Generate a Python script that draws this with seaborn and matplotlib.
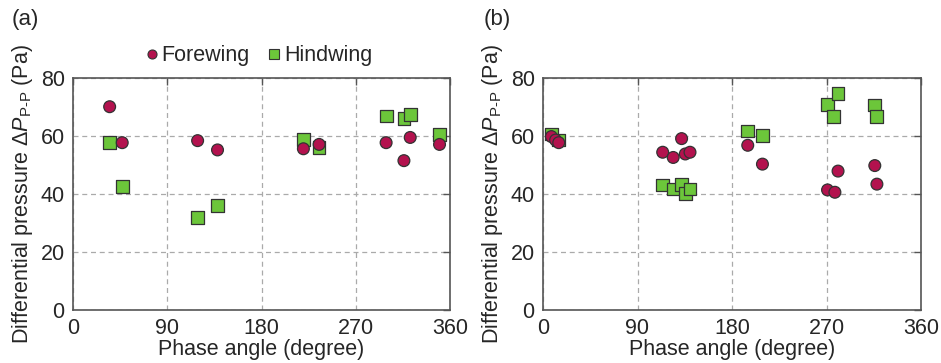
import numpy as np
import pandas as pd
import matplotlib
matplotlib.use("Agg")
import matplotlib.pyplot as plt
from matplotlib.lines import Line2D
import seaborn as sns

# ---- data ----
a_fore_x = [35, 47, 119, 138, 220, 235, 299, 316, 322, 350]
a_fore_y = [70.1, 57.7, 58.4, 55.2, 55.6, 57.1, 57.7, 51.5, 59.5, 57.1]
a_hind_x = [35, 47, 119, 138, 220, 235, 299, 316, 322, 350]
a_hind_y = [57.8, 42.5, 32.0, 35.9, 58.9, 56.1, 66.9, 65.9, 67.5, 60.6]

b_fore_x = [8, 12, 15, 114, 124, 132, 135.5, 140, 195, 209, 271, 278, 281, 316, 318]
b_fore_y = [59.8, 58.6, 57.7, 54.4, 52.6, 59.1, 53.8, 54.4, 56.8, 50.3, 41.4, 40.6, 47.9, 49.8, 43.4]
b_hind_x = [8, 15, 114, 124, 132, 135.5, 140, 195, 209, 271, 277, 281, 316, 318]
b_hind_y = [60.7, 58.6, 43.1, 41.7, 43.3, 40.1, 41.7, 61.7, 60.2, 71.0, 66.7, 74.6, 70.7, 66.7]

x_ticks = [0, 90, 180, 270, 360]
y_ticks = [0, 20, 40, 60, 80]
panel_labels = ["(a)", "(b)"]
series_names = ["Forewing", "Hindwing"]

FORE_COLOR = "#B3124E"
HIND_COLOR = "#6CC63A"

sns.set_theme(style="white")
plt.rcParams["font.family"] = ["Liberation Sans", "DejaVu Sans"]
plt.rcParams["mathtext.fontset"] = "custom"
plt.rcParams["mathtext.rm"] = "Liberation Sans"
plt.rcParams["mathtext.it"] = "Liberation Sans:italic"
plt.rcParams["mathtext.bf"] = "Liberation Sans:bold"


def make_df(hx, hy, fx, fy):
    # hindwing first so forewing circles are drawn on top
    rows = [("Hindwing", x, y) for x, y in zip(hx, hy)] + \
           [("Forewing", x, y) for x, y in zip(fx, fy)]
    return pd.DataFrame(rows, columns=["wing", "phase", "dp"])


dfs = [make_df(a_hind_x, a_hind_y, a_fore_x, a_fore_y),
       make_df(b_hind_x, b_hind_y, b_fore_x, b_fore_y)]

fig = plt.figure(figsize=(9.41, 3.63), dpi=100)
ax_a = fig.add_axes([73 / 941, 53 / 363, 377 / 941, 232 / 363])
ax_b = fig.add_axes([543 / 941, 53 / 363, 378 / 941, 232 / 363])

ylabel = r"Differential pressure $\Delta\mathit{P}_{\mathrm{P\text{-}P}}$ (Pa)"

for ax, df in zip([ax_a, ax_b], dfs):
    sns.scatterplot(
        data=df, x="phase", y="dp", hue="wing", style="wing", size="wing",
        hue_order=series_names, style_order=series_names,
        palette={"Forewing": FORE_COLOR, "Hindwing": HIND_COLOR},
        markers={"Forewing": "o", "Hindwing": "s"},
        sizes={"Forewing": 72, "Hindwing": 85},
        edgecolor="#333333", linewidth=0.9, alpha=1, legend=False, ax=ax, zorder=3,
    )
    ax.set_xlim(0, 360)
    ax.set_ylim(0, 80)
    ax.set_xticks(x_ticks)
    ax.set_yticks(y_ticks)
    ax.grid(True, color="#aaaaaa", linestyle=(0, (4, 3)), linewidth=0.9)
    ax.set_axisbelow(True)
    for sp in ax.spines.values():
        sp.set_color("#555555")
        sp.set_linewidth(1.2)
    ax.tick_params(direction="in", length=5, width=1, color="#555555",
                   top=True, right=True, labelsize=15.5, pad=6)
    ax.set_xlabel("Phase angle (degree)", fontsize=15.5, labelpad=0)
    ax.set_ylabel(ylabel, fontsize=15.5, labelpad=4)

fig.text(12 / 941, 1 - 19 / 363, panel_labels[0], fontsize=16, va="center", ha="left")
fig.text(484 / 941, 1 - 19 / 363, panel_labels[1], fontsize=16, va="center", ha="left")

handles = [
    Line2D([], [], marker="o", linestyle="none", markersize=6.5,
           markerfacecolor=FORE_COLOR, markeredgecolor="#333333", markeredgewidth=0.8),
    Line2D([], [], marker="s", linestyle="none", markersize=6.5,
           markerfacecolor=HIND_COLOR, markeredgecolor="#333333", markeredgewidth=0.8),
]
fig.legend(handles, series_names, loc="center", bbox_to_anchor=(257 / 941, 1 - 56 / 363),
           ncol=2, frameon=False, fontsize=15.5, handletextpad=0.0,
           columnspacing=0.7, handlelength=0.9, borderpad=0)

fig.savefig("out.png", dpi=100)
